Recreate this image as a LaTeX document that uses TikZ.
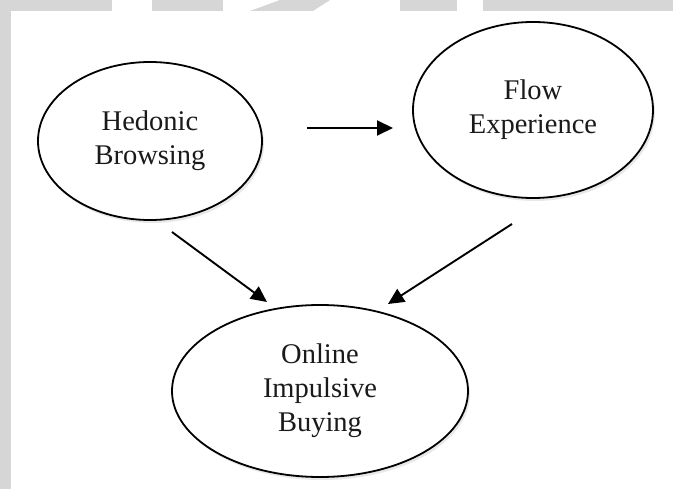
\documentclass[tikz,border=0pt]{standalone}
\usepackage{fontspec}
\setmainfont{Liberation Serif}
\usetikzlibrary{shapes.geometric,arrows.meta,shadows}
\definecolor{bandgray}{HTML}{D6D6D6}
\definecolor{inktext}{HTML}{1A1A1A}
\tikzset{
  construct/.style={ellipse, draw=black, line width=1.8pt, fill=white,
    inner sep=0pt, align=center, text=inktext,
    font=\fontsize{28.5}{34}\selectfont,
    drop shadow={opacity=0.18, shadow xshift=2pt, shadow yshift=-3pt}},
  link/.style={line width=1.9pt, -{Triangle[length=16pt,width=15pt]}},
  band/.style={fill=bandgray, draw=none}
}
\begin{document}
\begin{tikzpicture}[x=1pt,y=-1pt]
  % page and margin bands
  \fill[white] (0,0) rectangle (673,489);
  \useasboundingbox (0,0) rectangle (673,489);
  \fill[band] (0,0) rectangle (11,489);
  \fill[band] (0,0) rectangle (112,11);
  \fill[band] (152,0) rectangle (223,11);
  \fill[band] (250,11) -- (280,0) -- (330,0) -- (313,11) -- cycle;
  \fill[band] (400,0) rectangle (457,11);
  \fill[band] (483,0) rectangle (673,11);

  % constructs
  \node[construct, minimum width=224pt, minimum height=158pt] (hb) at (150,141)
    {Hedonic\\Browsing};
  \node[construct, minimum width=240pt, minimum height=176pt] (fe) at (533,110)
    {Flow\\Experience};
  \node[construct, minimum width=296pt, minimum height=172pt] (oib) at (320,391)
    {Online\\Impulsive\\Buying};

  % arrow end points
  \coordinate (hbfe0) at (307,128);
  \coordinate (hbfe1) at (393,128);
  \coordinate (hboib0) at (172,232);
  \coordinate (hboib1) at (267,302);
  \coordinate (feoib0) at (512,224);
  \coordinate (feoib1) at (388,304);

  % paths
  \draw[link] (hbfe0) -- (hbfe1);
  \draw[link] (hboib0) -- (hboib1);
  \draw[link] (feoib0) -- (feoib1);
\end{tikzpicture}
\end{document}
